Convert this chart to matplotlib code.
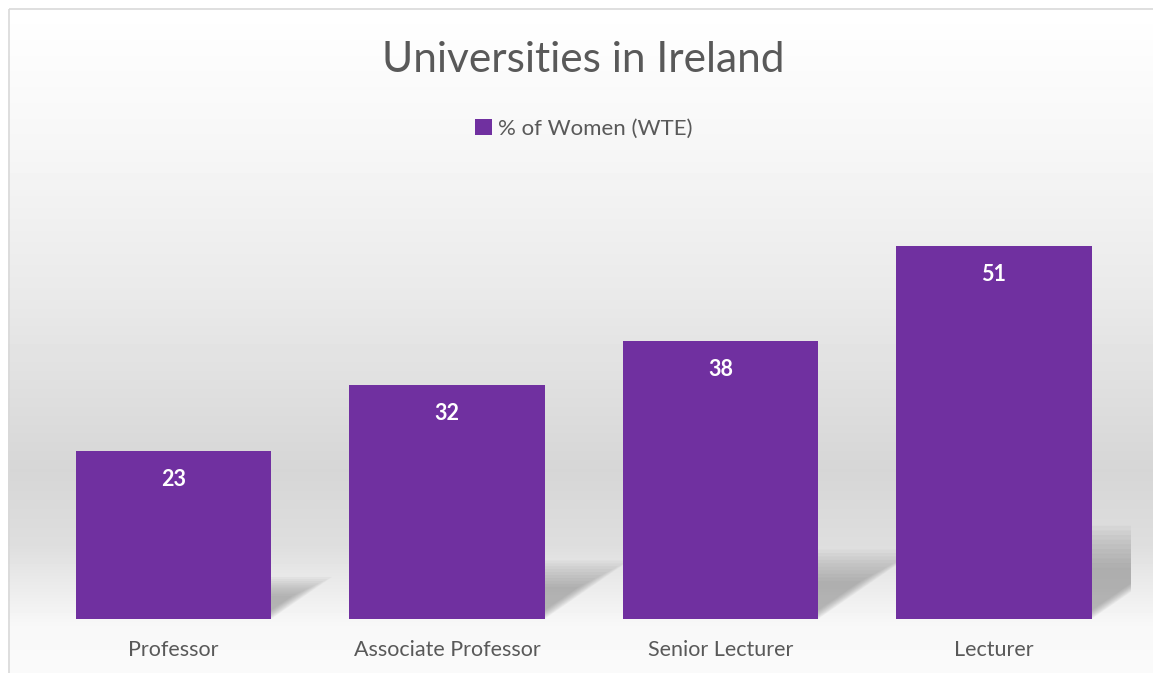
import numpy as np
import matplotlib
matplotlib.use("Agg")
import matplotlib.pyplot as plt
from matplotlib.patches import Polygon, Rectangle

plt.rcParams['font.family'] = ['Lato', 'DejaVu Sans']

# --------------------------------
# Data
# --------------------------------
categories = ["Professor", "Associate Professor", "Senior Lecturer", "Lecturer"]
women_pct = [23, 32, 38, 51]
series_name = "% of Women (WTE)"
title = "Universities in Ireland"

BAR_COLOR = "#7030A0"
TEXT_COLOR = "#595959"

W, H, DPI = 1153, 673, 100
fig = plt.figure(figsize=(W / DPI, H / DPI), dpi=DPI)
fig.patch.set_facecolor("white")

# background gradient (chart area starts at 8px from left/top)
bg = fig.add_axes([0, 0, 1, 1], zorder=0)
bg.set_axis_off()
stops_y = [0, 8, 150, 300, 470, 545, 600, 625, 673]
stops_v = [255, 255, 246, 233, 214, 222, 240, 248, 250]
grad = np.interp(np.arange(H), stops_y, stops_v) / 255.0
img = np.repeat(grad[:, None], W, axis=1)
img[:8, :] = 1.0
img[:, :8] = 1.0
bg.imshow(img, cmap="gray", vmin=0, vmax=1, aspect="auto",
          extent=[0, W, H, 0], interpolation="bilinear")
bg.set_xlim(0, W)
bg.set_ylim(H, 0)
bg.add_patch(Rectangle((8.5, 8.5), W + 10, H + 10, fill=False,
                       edgecolor="#d9d9d9", linewidth=1.2))

# --------------------------------
# Main axes
# --------------------------------
left, right, bottom_px, top_px = 36.75, 1130.75, 619, 180
ax = fig.add_axes([left / W, (H - bottom_px) / H, (right - left) / W,
                   (bottom_px - top_px) / H], zorder=1)
ax.patch.set_alpha(0)
x = np.arange(len(categories))
bar_w = 0.713
ax.set_xlim(-0.5, len(categories) - 0.5)
ax.set_ylim(0, 60)

# floor shadows: bar flattened to ~1/4 height and skewed to the right
for xi, v in zip(x, women_pct):
    sh = v * 0.25
    dx = v * 0.0097
    for k in range(10):
        s = 1 - k * 0.05
        x0 = xi - bar_w / 2 + 0.02 * k
        x1 = xi + bar_w / 2 - 0.005 * k
        top = sh * s
        poly = Polygon([(x0, 0), (x1, 0), (x1 + dx * s, top), (x0 + dx * s, top)],
                       closed=True, facecolor="#7a7a7a", edgecolor="none",
                       alpha=0.065, zorder=1)
        ax.add_patch(poly)

bars = ax.bar(x, women_pct, width=bar_w, color=BAR_COLOR, zorder=2,
              label=series_name)

for rect, v in zip(bars, women_pct):
    ax.annotate(str(v), (rect.get_x() + rect.get_width() / 2, v),
                xytext=(0, -29 * 72 / DPI), textcoords="offset points",
                ha="center", va="center", color="white",
                fontsize=15.5, fontweight="bold", zorder=3)

ax.set_xticks(x)
ax.set_xticklabels(categories, fontsize=15.5, color=TEXT_COLOR)
ax.tick_params(axis="x", length=0, pad=15)
ax.set_yticks([])
for sp in ax.spines.values():
    sp.set_visible(False)

fig.text(583 / W, 1 - 60 / H, title, ha="center", va="center",
         fontsize=30.5, color=TEXT_COLOR)
fig.legend(handles=[bars], labels=[series_name], loc="center",
           bbox_to_anchor=(584 / W, 1 - 129 / H), frameon=False,
           fontsize=16, handlelength=0.75, handleheight=0.75,
           handletextpad=0.3, labelcolor=TEXT_COLOR)

fig.savefig("out.png", dpi=DPI)
